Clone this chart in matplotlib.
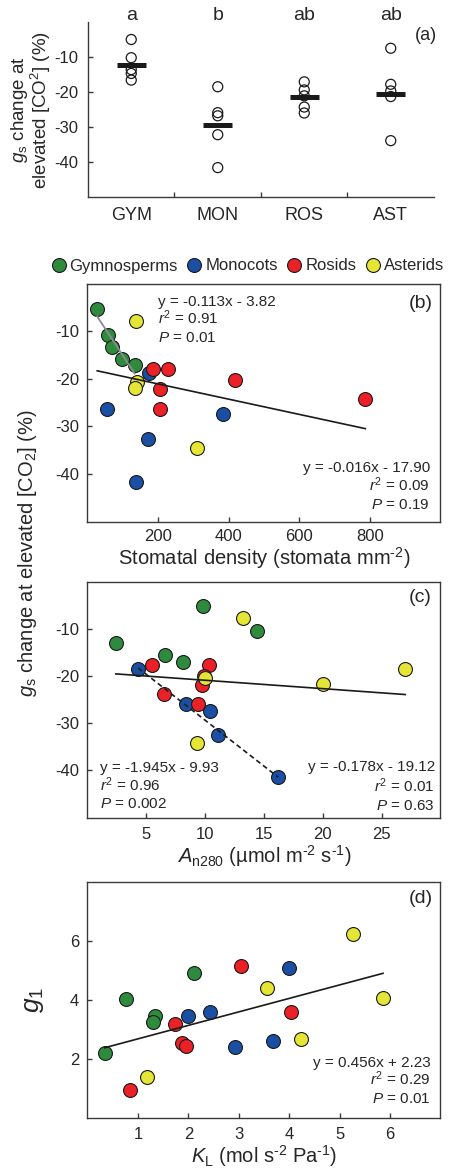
import matplotlib
matplotlib.use('Agg')
import matplotlib.pyplot as plt
from matplotlib.lines import Line2D
import numpy as np

plt.rcParams['font.family'] = ['Liberation Sans', 'DejaVu Sans']
plt.rcParams['mathtext.fontset'] = 'custom'
plt.rcParams['mathtext.rm'] = 'Liberation Sans'
plt.rcParams['mathtext.it'] = 'Liberation Sans:italic'
plt.rcParams['mathtext.bf'] = 'Liberation Sans:bold'
plt.rcParams['axes.unicode_minus'] = False

INK = '#262626'

# (a) gs change at elevated CO2 per clade
clades = ['GYM', 'MON', 'ROS', 'AST']
clade_letters = ['a', 'b', 'ab', 'ab']
gs_change = [
    [-5.0, -10.2, -13.6, -14.7, -16.6],
    [-18.5, -25.9, -26.8, -32.2, -41.6],
    [-17.1, -19.4, -21.1, -24.3, -26.0],
    [-7.5, -17.8, -19.7, -21.3, -33.9],
]
gs_mean = [-12.4, -29.4, -21.5, -20.6]

groups = ['Gymnosperms', 'Monocots', 'Rosids', 'Asterids']
colors = ['#2e8b3e', '#1b4fa3', '#ec2027', '#e5e535']

# (b) stomatal density vs gs change
dens_x = [
    [27.5, 57.7, 68, 98.5, 133.5],
    [56, 174, 172, 138, 383.5],
    [185.5, 229, 205.5, 205.5, 416.5, 787],
    [136, 141, 135.5, 311.6],
]
dens_y = [
    [-5.4, -10.8, -13.3, -15.8, -17.2],
    [-26.3, -18.9, -32.7, -41.6, -27.4],
    [-17.9, -17.9, -22.1, -26.3, -20.3, -24.3],
    [-7.9, -20.7, -22.0, -34.5],
]
fit_b_gym = (-0.113, -3.82)
fit_b_all = (-0.016, -17.90)

# (c) An280 vs gs change
an_x = [
    [2.4, 9.8, 14.4, 6.6, 8.1],
    [4.3, 8.4, 10.4, 11.1, 16.2],
    [5.5, 10.3, 6.5, 9.4, 9.7, 9.9],
    [9.95, 9.3, 13.2, 20.0, 27.0],
]
an_y = [
    [-13.0, -5.1, -10.4, -15.5, -17.0],
    [-18.5, -25.9, -27.4, -32.5, -41.5],
    [-17.6, -17.6, -23.8, -26.0, -21.8, -19.9],
    [-20.5, -34.2, -7.7, -21.6, -18.5],
]
fit_c_mon = (-1.945, -9.93)
fit_c_all = (-0.178, -19.12)

# (d) KL vs g1
kl_x = [
    [0.34, 0.77, 1.34, 1.30, 2.12],
    [2.00, 2.43, 2.92, 3.68, 3.99],
    [0.84, 1.73, 1.88, 1.95, 3.05, 4.03],
    [1.17, 3.56, 4.23, 5.27, 5.86],
]
kl_y = [
    [2.21, 4.02, 3.47, 3.27, 4.90],
    [3.46, 3.58, 2.40, 2.63, 5.07],
    [0.95, 3.18, 2.53, 2.45, 5.14, 3.59],
    [1.38, 4.39, 2.68, 6.23, 4.07],
]
fit_d_all = (0.456, 2.23)

FW, FH = 452, 1168


def box(l, t, r, b):
    return [l / FW, 1 - b / FH, (r - l) / FW, (b - t) / FH]


def fpos(x, y):
    return x / FW, 1 - y / FH


def style_axes(ax, pad_x=6, pad_y=6):
    for s in ax.spines.values():
        s.set_color('#3a3a3a')
        s.set_linewidth(1.0)
    ax.tick_params(direction='in', length=3.5, width=1.0, color='#3a3a3a',
                   labelsize=12, labelcolor=INK)
    ax.tick_params(axis='x', pad=pad_x)
    ax.tick_params(axis='y', pad=pad_y)


def fit_line(ax, xs, coef, **kw):
    lo, hi = min(xs), max(xs)
    xx = np.array([lo, hi])
    ax.plot(xx, coef[0] * xx + coef[1], zorder=4, **kw)


def scatter_groups(ax, xs, ys):
    for gx, gy, c in zip(xs, ys, colors):
        ax.scatter(gx, gy, s=100, c=c, edgecolors='#1a1a1a', linewidths=0.8, zorder=3)


def stats(x, y, lines, ha):
    # three stacked lines: equation, r^2, P
    for (yy, txt) in zip(y, lines):
        fig.text(*fpos(x, yy), txt, ha=ha, va='baseline', fontsize=11, color=INK)


fig = plt.figure(figsize=(FW / 100, FH / 100), dpi=100)

# ---- panel (a)
ax_a = fig.add_axes(box(88, 22, 434, 197))
style_axes(ax_a, pad_x=7, pad_y=7)
ax_a.spines['top'].set_visible(False)
ax_a.spines['right'].set_visible(False)
for i, vals in enumerate(gs_change):
    ax_a.scatter([i + 1] * len(vals), vals, s=52, facecolors='none',
                 edgecolors='#1a1a1a', linewidths=0.9, zorder=3)
    ax_a.hlines(gs_mean[i], i + 1 - 0.17, i + 1 + 0.17, color='#1a1a1a', lw=3.6, zorder=4)
    ax_a.text(i + 1, 1.01, clade_letters[i], transform=ax_a.get_xaxis_transform(),
              ha='center', va='baseline', fontsize=14, color=INK)
ax_a.set_xlim(0.5, 4.5)
ax_a.set_ylim(-50, 0)
ax_a.set_xticks(range(1, 5))
ax_a.set_xticklabels(clades, fontsize=13)
ax_a.tick_params(axis='x', which='major', length=0)
ax_a.set_xticks([1.5, 2.5, 3.5], minor=True)
ax_a.tick_params(axis='x', which='minor', direction='in', length=3.5, width=1.0, color='#3a3a3a')
ax_a.set_yticks([-10, -20, -30, -40])
fig.text(*fpos(437, 36), '(a)', ha='right', va='center', fontsize=13, color=INK)
fig.text(*fpos(31, 110), '$g_\\mathrm{s}$ change at\nelevated [CO$^{2}$] (%)', rotation=90,
         ha='center', va='center', multialignment='center', fontsize=13.5,
         linespacing=0.95, color=INK)

# ---- panel (b)
ax_b = fig.add_axes(box(87.5, 283.5, 440.5, 521.5))
style_axes(ax_b, pad_x=5.5, pad_y=6)
scatter_groups(ax_b, dens_x, dens_y)
fit_line(ax_b, dens_x[0], fit_b_gym, color='#8c8c8c', lw=1.3)
fit_line(ax_b, sum(dens_x, []), fit_b_all, color='#1a1a1a', lw=1.2)
ax_b.set_xlim(0, 1000)
ax_b.set_ylim(-50, 0)
ax_b.set_xticks([200, 400, 600, 800])
ax_b.set_yticks([-10, -20, -30, -40])
ax_b.set_xlabel('Stomatal density (stomata mm$^{\\text{-}2}$)', fontsize=14.5, color=INK, labelpad=1)
stats(158, [306, 324, 341.7], ['y = -0.113x - 3.82', '$r^2$ = 0.91', '$P$ = 0.01'], 'left')
stats(430, [471.7, 490.7, 509.3], ['y = -0.016x - 17.90', '$r^2$ = 0.09', '$P$ = 0.19'], 'right')
fig.text(*fpos(433, 303), '(b)', ha='right', va='center', fontsize=14, color=INK)

handles = [Line2D([], [], ls='', marker='o', markersize=10, markerfacecolor=c,
                  markeredgecolor='#1a1a1a', markeredgewidth=0.8) for c in colors]
fig.legend(handles, groups, loc='center', bbox_to_anchor=fpos(248, 266), ncol=4,
           frameon=False, fontsize=12, handlelength=0.8, handletextpad=0.25,
           columnspacing=0.6, borderpad=0, labelcolor=INK)

# ---- panel (c)
ax_c = fig.add_axes(box(87.5, 581.7, 440.5, 817.5))
style_axes(ax_c, pad_x=6.5, pad_y=6)
scatter_groups(ax_c, an_x, an_y)
fit_line(ax_c, an_x[1], fit_c_mon, color='#1a1a1a', lw=1.2, ls=(0, (3, 2)))
fit_line(ax_c, sum(an_x, []), fit_c_all, color='#1a1a1a', lw=1.2)
ax_c.set_xlim(0, 30)
ax_c.set_ylim(-50, 0)
ax_c.set_xticks([5, 10, 15, 20, 25])
ax_c.set_yticks([-10, -20, -30, -40])
ax_c.set_xlabel('$A_\\mathrm{n280}$ (µmol m$^{\\text{-}2}$ s$^{\\text{-}1}$)', fontsize=14.5,
                color=INK, labelpad=1)
stats(100, [772.3, 790.7, 808.3], ['y = -1.945x - 9.93', '$r^2$ = 0.96', '$P$ = 0.002'], 'left')
stats(435, [770.7, 792.3, 810], ['y = -0.178x - 19.12', '$r^2$ = 0.01', '$P$ = 0.63'], 'right')
fig.text(*fpos(432, 597), '(c)', ha='right', va='center', fontsize=14, color=INK)

fig.text(*fpos(28, 553), '$g_\\mathrm{s}$ change at elevated [CO$_2$] (%)', rotation=90,
         ha='center', va='center', fontsize=14.5, color=INK)

# ---- panel (d)
ax_d = fig.add_axes(box(87.5, 881.7, 440.5, 1118.3))
style_axes(ax_d, pad_x=6, pad_y=6)
scatter_groups(ax_d, kl_x, kl_y)
fit_line(ax_d, sum(kl_x, []), fit_d_all, color='#1a1a1a', lw=1.2)
ax_d.set_xlim(0, 7)
ax_d.set_ylim(0, 8)
ax_d.set_xticks([1, 2, 3, 4, 5, 6])
ax_d.set_yticks([2, 4, 6])
ax_d.set_xlabel('$K_\\mathrm{L}$ (mol s$^{\\text{-}2}$ Pa$^{\\text{-}1}$)', fontsize=14.5,
                color=INK, labelpad=1)
ax_d.set_ylabel('$g_1$', fontsize=19, color=INK, labelpad=17)
stats(431, [1066.7, 1085, 1103.3], ['y = 0.456x + 2.23', '$r^2$ = 0.29', '$P$ = 0.01'], 'right')
fig.text(*fpos(433, 898.3), '(d)', ha='right', va='center', fontsize=14, color=INK)

fig.savefig('out.png', dpi=100)
